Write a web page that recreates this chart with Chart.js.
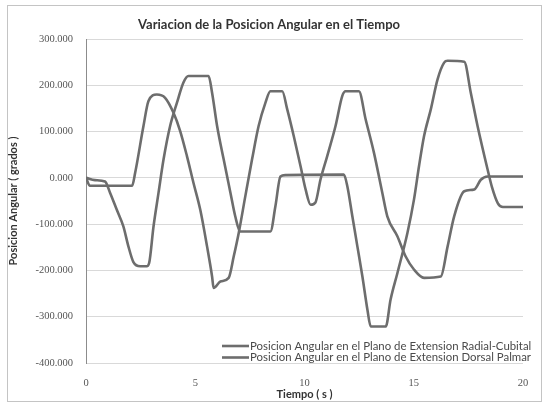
<!DOCTYPE html>
<html>
<head>
<meta charset="utf-8">
<script src="https://cdn.jsdelivr.net/npm/chart.js@4.4.1/dist/chart.umd.min.js"></script>
<style>
  html, body { margin: 0; padding: 0; background: #ffffff; }
  #wrap { position: relative; width: 544px; height: 403px; }
</style>
</head>
<body>
<div id="wrap"><canvas id="c" width="544" height="403"></canvas></div>
<script>
const chartTitle = "Variacion de la Posicion Angular en el Tiempo";
const xAxisTitle = "Tiempo ( s )";
const yAxisTitle = "Posicion Angular ( grados )";
const seriesLabels = [
  "Posicion Angular en el Plano de Extension Radial-Cubital",
  "Posicion Angular en el Plano de Extension Dorsal Palmar"
];
const xTickValues = [0, 5, 10, 15, 20];
const yTickValues = [-400, -300, -200, -100, 0, 100, 200, 300];

const timeA = [0, 0.41, 0.87, 1.10, 1.41, 1.71, 1.94, 2.17, 2.48, 2.78, 2.89, 3.09, 3.32, 3.55, 3.85, 4.16, 4.46, 4.69, 5.61, 5.77, 6.00, 6.30, 6.61, 6.83, 7.06, 8.44, 8.67, 8.90, 9.13, 11.80, 11.96, 12.19, 12.42, 12.65, 12.88, 13.03, 13.72, 13.94, 14.25, 14.71, 15.01, 15.24, 15.47, 15.78, 16.09, 16.39, 16.55, 17.31, 17.61, 17.92, 18.38, 18.58, 18.85, 19.08, 20.0];
const valuesA = [0, -5, -8, -32, -69, -105, -148, -182, -191, -191, -184, -105, -32, 40, 112, 162, 206, 220, 220, 184, 112, 40, -32, -83, -116, -116, -61, 3, 6, 7, -18, -83, -148, -213, -285, -321, -321, -263, -206, -119, -47, 25, 90, 148, 213, 249, 253, 251, 184, 112, 18, -20, -55, -63, -63];

const timeB = [0, 0.18, 2.11, 2.25, 2.63, 2.86, 3.24, 3.62, 4.00, 4.31, 4.62, 4.92, 5.23, 5.54, 5.77, 5.84, 6.15, 6.53, 6.76, 6.99, 7.29, 7.60, 7.90, 8.21, 8.44, 8.98, 9.21, 9.51, 9.82, 10.05, 10.28, 10.50, 10.73, 11.04, 11.42, 11.73, 11.88, 12.49, 12.80, 13.18, 13.56, 13.79, 14.25, 14.63, 15.01, 15.47, 16.24, 16.55, 16.85, 17.31, 17.77, 18.07, 18.38, 20.0];
const valuesB = [0, -17, -17, 11, 112, 166, 180, 173, 141, 101, 47, -11, -69, -148, -213, -238, -224, -216, -170, -119, -40, 40, 112, 162, 187, 187, 148, 90, 25, -25, -58, -53, -4, 47, 112, 177, 187, 187, 126, 54, -32, -83, -126, -170, -198, -216, -213, -148, -83, -29, -25, -4, 3, 3];

const lineColor = '#6d6d6d';
const toPoints = (ts, vs) => ts.map((t, i) => ({ x: t, y: vs[i] }));

const decorPlugin = {
  id: 'decor',
  beforeDraw(chart) {
    const ctx = chart.ctx;
    ctx.save();
    ctx.fillStyle = '#ffffff';
    ctx.fillRect(0, 0, chart.width, chart.height);
    ctx.restore();
  },
  afterDraw(chart) {
    const ctx = chart.ctx;
    ctx.save();
    ctx.strokeStyle = '#c4c4c4';
    ctx.lineWidth = 1;
    ctx.strokeRect(7.5, 5.5, 534, 396);
    ctx.fillStyle = '#333333';
    ctx.font = 'bold 13px Lato';
    ctx.textAlign = 'center';
    ctx.textBaseline = 'middle';
    ctx.fillText(chartTitle, 269, 25);
    ctx.font = '11.4px Lato';
    ctx.textAlign = 'left';
    const rows = [346, 357.5];
    chart.data.datasets.forEach((ds, i) => {
      const y = rows[i];
      ctx.strokeStyle = ds.borderColor;
      ctx.lineWidth = 2.6;
      ctx.beginPath();
      ctx.moveTo(222, y);
      ctx.lineTo(249, y);
      ctx.stroke();
      ctx.fillStyle = '#4a4a4a';
      ctx.fillText(ds.label, 250, y);
    });
    ctx.restore();
  }
};

new Chart(document.getElementById('c'), {
  type: 'line',
  data: {
    datasets: [
      { label: seriesLabels[0], data: toPoints(timeA, valuesA), borderColor: lineColor, borderWidth: 2.6, pointRadius: 0, cubicInterpolationMode: 'monotone', fill: false },
      { label: seriesLabels[1], data: toPoints(timeB, valuesB), borderColor: lineColor, borderWidth: 2.6, pointRadius: 0, cubicInterpolationMode: 'monotone', fill: false }
    ]
  },
  options: {
    responsive: false,
    animation: false,
    devicePixelRatio: 1,
    layout: { padding: { left: 0, right: 21, top: 39, bottom: 0 } },
    plugins: { legend: { display: false }, title: { display: false }, tooltip: { enabled: false } },
    scales: {
      x: {
        type: 'linear', min: 0, max: 20,
        afterBuildTicks(scale) { scale.ticks = xTickValues.map(v => ({ value: v })); },
        afterFit(scale) { scale.height = 40; },
        grid: { display: false, drawTicks: false },
        border: { display: false },
        ticks: { padding: 14, color: '#555', font: { family: 'Liberation Serif', size: 10.5 }, maxRotation: 0 },
        title: { display: true, text: xAxisTitle, color: '#333333', font: { family: 'Lato', size: 11, weight: 'bold' }, padding: { top: 0, bottom: 2 } }
      },
      y: {
        type: 'linear', min: -400, max: 300,
        afterBuildTicks(scale) { scale.ticks = yTickValues.map(v => ({ value: v })); },
        afterFit(scale) { scale.width = 86; },
        grid: { color: '#d9d9d9', lineWidth: 1, drawTicks: false },
        border: { display: true, color: '#8c8c8c', width: 1 },
        ticks: { padding: 13, color: '#555', font: { family: 'Liberation Serif', size: 10.5 }, callback: v => Number(v).toFixed(3) },
        title: { display: true, text: yAxisTitle, color: '#333333', font: { family: 'Lato', size: 11, weight: 'bold' }, padding: { top: 7, bottom: 0 } }
      }
    }
  },
  plugins: [decorPlugin]
});
</script>
</body>
</html>
